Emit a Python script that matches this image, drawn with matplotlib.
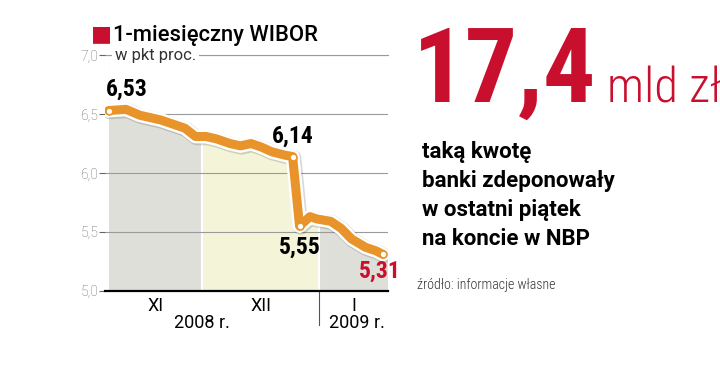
import numpy as np
import matplotlib.pyplot as plt
import matplotlib.patheffects as pe

# dane: dzien (od 1 XI 2008) i 1-miesieczny WIBOR
days = [1, 6, 10, 16, 19, 23, 26, 29, 32, 36, 39, 42, 45, 48, 52, 54,
        56, 59, 61, 65, 68, 71, 75, 78, 80]
wibor = [6.53, 6.54, 6.49, 6.45, 6.42, 6.38, 6.31, 6.31, 6.29, 6.25, 6.23,
         6.25, 6.22, 6.18, 6.15, 6.14, 5.55, 5.63, 5.61, 5.59, 5.53, 5.44,
         5.37, 5.34, 5.31]
month_edges = [28, 61.5]
band_colors = ['#dfdfda', '#f4f4d9', '#dfdfda']
month_labels = ['XI', 'XII', 'I']
yticks = [5.0, 5.5, 6.0, 6.5, 7.0]
labels_idx = [0, 15, 16, 24]   # punkty z etykieta

RED = '#c8102e'
ORANGE = '#e8942a'
COND = ['Roboto Condensed', 'DejaVu Sans']
REG = ['Roboto', 'DejaVu Sans']

plt.rcParams['font.family'] = REG

fig = plt.figure(figsize=(7.2, 3.65), dpi=100)
ax = fig.add_axes([0.146, 0.203, 0.393, 0.646])

x = np.array(days)
y = np.array(wibor)
edges = [x[0]] + month_edges + [x[-1] + 1.5]
for i in range(3):
    ax.axvspan(edges[i], edges[i + 1], color=band_colors[i], lw=0, zorder=0)
    if i > 0:
        ax.axvline(edges[i], color='white', lw=1.5, zorder=0.6)
ax.fill_between(np.r_[x, x[-1] + 1.5], np.r_[y, y[-1]], 7.3,
                color='white', lw=0, zorder=0.5)

for t in yticks[1:]:
    ax.axhline(t, color='#9a9a9a', lw=0.8, zorder=1)

ax.plot(x, y, color=ORANGE, lw=6.5, solid_capstyle='round',
        solid_joinstyle='round', zorder=3,
        path_effects=[pe.SimpleLineShadow(offset=(0.8, -0.8), alpha=0.15,
                                          linewidth=11),
                      pe.Stroke(linewidth=10, foreground='white'),
                      pe.Normal()])
for i in labels_idx:
    ax.plot(x[i], y[i], 'o', ms=5, mfc='white', mec=ORANGE, mew=1.2,
            zorder=4)

num = dict(fontsize=17, fontweight='bold', family=COND, zorder=5,
           textcoords='offset points')
ax.annotate('6,53', (x[0], y[0]), xytext=(-2, 7), ha='left', va='bottom',
            **num)
ax.annotate('6,14', (x[15], y[15]), xytext=(0, 6), ha='center',
            va='bottom', **num)
ax.annotate('5,55', (x[16], y[16]), xytext=(0, -7), ha='center', va='top',
            **num)
ax.annotate('5,31', (x[24], y[24]), xytext=(-2, -4), ha='center', va='top',
            color=RED, **num)

ax.set_xlim(0, x[-1] + 1.5)
ax.set_ylim(5.0, 7.0)
ax.set_yticks(yticks)
ax.set_yticklabels([('%.1f' % v).replace('.', ',') for v in yticks],
                   color='#666666', fontsize=10, fontweight='light')
ax.tick_params(axis='y', length=4, color='#666666', pad=1)
ax.tick_params(axis='x', length=0)
ax.set_xticks([])
for s in ['top', 'right', 'left']:
    ax.spines[s].set_visible(False)
ax.spines['bottom'].set_linewidth(1.6)
ax.spines['bottom'].set_zorder(6)

# podpisy miesiecy
xt = ax.get_xaxis_transform()
centers = [(edges[i] + edges[i + 1]) / 2 for i in range(3)]
for c, lab in zip(centers, month_labels):
    ax.text(c, -0.065, lab, transform=xt, ha='center', va='center',
            fontsize=13)
ax.text(month_edges[0], -0.135, '2008 r.', transform=xt, ha='center',
        va='center', fontsize=13)
ax.text(centers[2] + 1, -0.135, '2009 r.', transform=xt, ha='center',
        va='center', fontsize=13)
ax.plot([month_edges[1], month_edges[1]], [0, -0.145], color='#555555',
        lw=0.8, transform=xt, clip_on=False)

ax.text(0.035, 1.0, 'w pkt proc.', transform=ax.transAxes, fontsize=12,
        color='#333333', va='center', ha='left', zorder=7,
        bbox=dict(facecolor='white', edgecolor='none', pad=2))
ax.axhline(7.0, color='#9a9a9a', lw=0.8, zorder=1, clip_on=False)

# tytul
fig.text(0.127, 0.907, '\u25a0', color=RED, fontsize=16, va='center',
         family=['DejaVu Sans'])
fig.text(0.157, 0.904, '1-miesięczny WIBOR', fontsize=15.8, va='center',
         fontweight='medium')

# prawa strona
fig.text(0.573, 0.72, '17,4', color=RED, fontsize=75, va='baseline',
         fontweight='bold', family=COND)
fig.text(0.843, 0.72, 'mld zł', color=RED, fontsize=35, va='baseline',
         fontweight='light', family=COND)
txt = 'taką kwotę\nbanki zdeponowały\nw ostatni piątek\nna koncie w NBP'
fig.text(0.586, 0.614, txt, fontsize=16, fontweight='bold', va='top',
         linespacing=1.42)
fig.text(0.579, 0.218, 'źródło: informacje własne', fontsize=10,
         color='#333333', va='center', fontweight='light', family=COND)

fig.savefig('out.png', dpi=100)
